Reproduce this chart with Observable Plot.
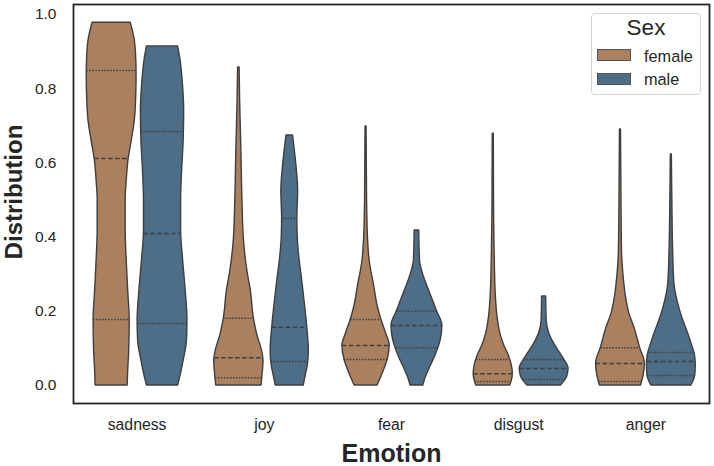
<!DOCTYPE html>
<html><head><meta charset="utf-8">
<script src="https://cdn.jsdelivr.net/npm/d3@7"></script>
<script src="https://cdn.jsdelivr.net/npm/@observablehq/plot@0.6"></script>
<style>
body{margin:0;background:#fff;}
#wrap{position:relative;width:714px;height:466px;font-family:"Liberation Sans",Arial,sans-serif;color:#262626;}
#wrap svg{position:absolute;left:0;top:0;}
.lg{position:absolute;}
</style></head><body><div id="wrap"></div>
<script>
// ---- data ----
const emotions = ["sadness", "joy", "fear", "disgust", "anger"];
const sexes = ["female", "male"];
const sexColors = ["#aa805e", "#4e6d86"];
const yTicks = [0, 0.2, 0.4, 0.6, 0.8, 1.0];

// violin outlines: [value, relative density (half-width, 1 = widest)]
const sadnessFemale = [[0,.63],[.04,.65],[.094,.69],[.175,.71],[.256,.65],[.34,.59],[.42,.55],[.5,.55],[.55,.59],[.612,.67],[.66,.79],[.714,.91],[.768,.96],[.836,.98],[.89,.96],[.93,.91],[.978,.75]];
const sadnessMale = [[0,.61],[.027,.71],[.067,.83],[.121,.96],[.175,.98],[.256,.91],[.337,.81],[.418,.73],[.499,.73],[.58,.77],[.66,.83],[.741,.85],[.822,.79],[.876,.71],[.914,.61]];
const joyFemale = [[0,.89],[.035,.94],[.067,.97],[.094,.91],[.135,.73],[.181,.59],[.256,.47],[.302,.35],[.391,.2],[.499,.14],[.633,.1],[.768,.05],[.857,.03]];
const joyMale = [[0,.55],[.027,.63],[.054,.71],[.094,.75],[.156,.69],[.229,.58],[.283,.49],[.337,.39],[.391,.32],[.45,.3],[.526,.33],[.58,.28],[.633,.2],[.674,.13]];
const fearFemale = [[0,.45],[.035,.67],[.07,.85],[.108,.93],[.14,.79],[.178,.6],[.216,.45],[.264,.33],[.337,.14],[.391,.08],[.499,.04],[.698,.02]];
const fearMale = [[0,.25],[.022,.35],[.049,.52],[.081,.73],[.121,.93],[.162,1],[.2,.79],[.229,.63],[.264,.43],[.305,.22],[.337,.12],[.418,.09]];
const disgustFemale = [[0,.67],[.013,.73],[.032,.77],[.054,.73],[.081,.61],[.108,.43],[.14,.28],[.189,.16],[.243,.1],[.337,.06],[.499,.03],[.679,.02]];
const disgustMale = [[0,.66],[.024,.91],[.046,.96],[.07,.79],[.089,.61],[.113,.39],[.14,.2],[.175,.1],[.24,.08]];
const angerFemale = [[0,.81],[.027,.91],[.059,.96],[.102,.77],[.127,.67],[.156,.55],[.189,.37],[.229,.24],[.296,.12],[.364,.06],[.499,.04],[.69,.02]];
const angerMale = [[0,.79],[.027,.94],[.054,.96],[.081,.93],[.113,.79],[.14,.66],[.175,.47],[.21,.31],[.275,.12],[.364,.07],[.499,.04],[.623,.02]];

// quartiles [q25, median, q75] per emotion
const quartilesFemale = [[.178,.612,.849],[.021,.075,.181],[.07,.108,.178],[.011,.032,.07],[.011,.059,.102]];
const quartilesMale   = [[.167,.41,.685],[.065,.157,.45],[.102,.162,.2],[.016,.046,.07],[.027,.065,.089]];

// ---- build tables ----
const outlineFemale = [sadnessFemale, joyFemale, fearFemale, disgustFemale, angerFemale];
const outlineMale = [sadnessMale, joyMale, fearMale, disgustMale, angerMale];
const halfBand = 0.2; // dodge offset and max half-width in category units

const rows = [];
const qRows = [];
function widthAt(outline, v) {
  for (let k = 1; k < outline.length; k++) {
    const [v0, d0] = outline[k-1], [v1, d1] = outline[k];
    if (v >= v0 && v <= v1) return d0 + (d1 - d0) * (v - v0) / (v1 - v0);
  }
  return 0;
}
emotions.forEach((e, i) => {
  sexes.forEach((s, j) => {
    const outline = j === 0 ? outlineFemale[i] : outlineMale[i];
    const quarts = j === 0 ? quartilesFemale[i] : quartilesMale[i];
    const pos = i + (j === 0 ? -halfBand : halfBand);
    outline.forEach(([v, d]) => rows.push({emotion: e, sex: s, key: e + "-" + s, pos, value: v, d}));
    quarts.forEach((q, k) => qRows.push({sex: s, pos, value: q, d: widthAt(outline, q), median: k === 1}));
  });
});

const edge = "#3f3f3f";
const plot = Plot.plot({
  width: 714, height: 466,
  marginLeft: 73, marginRight: 5, marginTop: 4, marginBottom: 63,
  style: {fontFamily: '"Liberation Sans", Arial, sans-serif', fontSize: "15.5px", color: "#262626", background: "transparent"},
  x: {domain: [-0.5, 4.5]},
  y: {domain: [-0.0485, 1.027]},
  color: {domain: sexes, range: sexColors},
  marks: [
    Plot.areaX(rows, {
      y: "value",
      x1: r => r.pos - r.d * halfBand,
      x2: r => r.pos + r.d * halfBand,
      z: "key", fill: "sex", stroke: edge, strokeWidth: 1.4, curve: "monotone-y"
    }),
    Plot.ruleY(qRows.filter(r => !r.median), {
      y: "value", x1: r => r.pos - r.d * halfBand, x2: r => r.pos + r.d * halfBand,
      stroke: edge, strokeWidth: 1.5, strokeDasharray: "1.5,1.5"
    }),
    Plot.ruleY(qRows.filter(r => r.median), {
      y: "value", x1: r => r.pos - r.d * halfBand, x2: r => r.pos + r.d * halfBand,
      stroke: edge, strokeWidth: 1.5, strokeDasharray: "4.5,2.5"
    }),
    Plot.axisY(yTicks, {tickSize: 0, tickPadding: 17, tickFormat: d3.format(".1f"), label: null, fill: "#262626", fontSize: 15.5}),
    Plot.axisX(d3.range(emotions.length), {tickSize: 0, tickPadding: 15, tickFormat: i => emotions[i], label: null, fill: "#262626", fontSize: 15.8}),
    Plot.frame({stroke: "#262626", strokeWidth: 1.8}),
    Plot.text(["Emotion"], {frameAnchor: "bottom", dy: 50, lineAnchor: "middle", fontSize: 25, fontWeight: "bold", fill: "#262626"}),
    Plot.text(["Distribution"], {frameAnchor: "left", dx: -59, dy: -12, rotate: -90, lineAnchor: "middle", textAnchor: "middle", fontSize: 24, fontWeight: "bold", fill: "#262626"})
  ]
});
const wrap = document.getElementById("wrap");
wrap.appendChild(plot);

// ---- legend (colors taken from the plot's color scale) ----
const cs = plot.scale("color");
function el(css, text) {
  const d = document.createElement("div");
  d.className = "lg";
  d.style.cssText = css;
  if (text) d.textContent = text;
  wrap.appendChild(d);
  return d;
}
el("left:591px;top:12.5px;width:110px;height:82px;box-sizing:border-box;border:1px solid #d4d4d4;border-radius:4px;background:rgba(255,255,255,0.8);");
el("left:591px;top:17.4px;width:110px;text-align:center;font-size:22.5px;line-height:22px;", "Sex");
cs.domain.forEach((s, k) => {
  const top = 49.3 + k * 23.4;
  el(`left:597px;top:${top}px;width:34px;height:12px;box-sizing:border-box;border:0.8px solid #555;background:${cs.range[k]};`);
  el(`left:644px;top:${top - 1.8}px;font-size:16.3px;line-height:16px;`, s);
});
</script></body></html>
